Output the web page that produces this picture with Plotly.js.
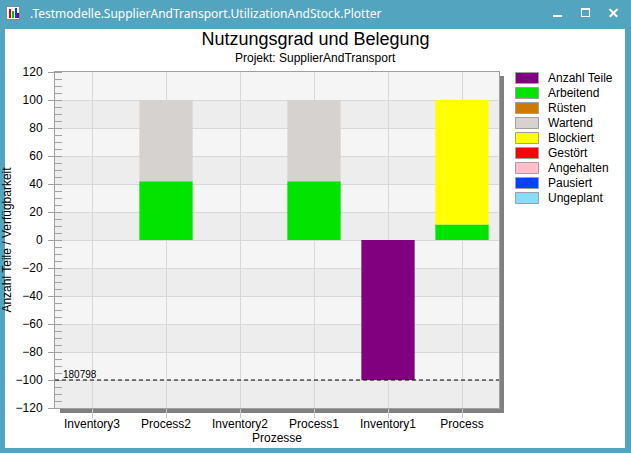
<!DOCTYPE html>
<html>
<head>
<meta charset="utf-8">
<script src="https://cdn.plot.ly/plotly-3.0.1.min.js"></script>
<style>
  html, body { margin: 0; padding: 0; }
  body { width: 631px; height: 453px; background: #53a4bf; position: relative; overflow: hidden; }
  #client { position: absolute; left: 5px; top: 29px; width: 620px; height: 419px; background: #fff; }
  #plot { position: absolute; left: 0; top: 0; width: 631px; height: 453px; }
  #caption { position: absolute; left: 30px; top: 5px; color: #fff; font: 12px "Noto Sans", "Open Sans", sans-serif; white-space: nowrap; }
  .icon { position: absolute; left: 6px; top: 6px; width: 14px; height: 14px; background: #fff; border: 1px solid #888; box-sizing: border-box; }
  .icon i { position: absolute; bottom: 1px; width: 2px; }
  .btn { position: absolute; background: #fff; }
</style>
</head>
<body>
<div id="client"></div>
<div class="icon">
  <i style="left:2px;height:9px;background:#e00000"></i>
  <i style="left:5px;height:7px;background:#00c000"></i>
  <i style="left:8px;height:10px;background:#0040ff"></i>
  <i style="left:10px;height:5px;background:#800080"></i>
</div>
<div id="caption">.Testmodelle.SupplierAndTransport.UtilizationAndStock.Plotter</div>
<div class="btn" style="left:553px;top:15px;width:9px;height:2px"></div>
<div style="position:absolute;left:581px;top:8px;width:7px;height:6px;border:1px solid #fff;border-top-width:2px"></div>
<div class="btn" style="left:608px;top:12px;width:11px;height:1.5px;transform:rotate(45deg)"></div>
<div class="btn" style="left:608px;top:12px;width:11px;height:1.5px;transform:rotate(-45deg)"></div>
<div id="plot"></div>
<script>
// Categories and values
const categories = ['Inventory3', 'Process2', 'Inventory2', 'Process1', 'Inventory1', 'Process'];

const seriesNames  = ['Anzahl Teile', 'Arbeitend', 'Rüsten', 'Wartend', 'Blockiert', 'Gestört', 'Angehalten', 'Pausiert', 'Ungeplant'];
const seriesColors = ['#800080', '#00e400', '#cc7a00', '#d5d2cf', '#ffff00', '#ff0000', '#ffc0cb', '#0044ff', '#87dcfa'];

const anzahlTeile = [0, 0, 0, 0, -100, 0];
const arbeitend   = [0, 42, 0, 42, 0, 11];
const ruesten     = [0, 0, 0, 0, 0, 0];
const wartend     = [0, 58, 0, 58, 0, 0];
const blockiert   = [0, 0, 0, 0, 0, 89];
const gestoert    = [0, 0, 0, 0, 0, 0];
const angehalten  = [0, 0, 0, 0, 0, 0];
const pausiert    = [0, 0, 0, 0, 0, 0];
const ungeplant   = [0, 0, 0, 0, 0, 0];

const seriesValues = [anzahlTeile, arbeitend, ruesten, wartend, blockiert, gestoert, angehalten, pausiert, ungeplant];

const refLineValue = -100;
const refLineLabel = '180798';

const yTicks = [-120, -100, -80, -60, -40, -20, 0, 20, 40, 60, 80, 100, 120];

// Geometry of the plot area (pixels in the window)
const M = { l: 55, r: 132, t: 72, b: 45 };
const PW = 631 - M.l - M.r;
const PH = 453 - M.t - M.b;
const px2x = px => (px - M.l) / PW;
const px2y = py => (453 - M.b - py) / PH;

const FONT = 'Liberation Sans, Arial, sans-serif';

const traces = seriesNames.map((name, i) => ({
	type: 'bar',
	name: name,
	x: categories,
	y: seriesValues[i],
	marker: { color: seriesColors[i], line: { width: 0 } },
	showlegend: false,
	hoverinfo: 'x+y+name'
}));

const shapes = [];

// Alternating horizontal bands
for (let k = 0; k < yTicks.length - 1; k += 2) {
	shapes.push({
		type: 'rect', layer: 'below',
		xref: 'paper', x0: 0, x1: 1,
		yref: 'y', y0: yTicks[k], y1: yTicks[k + 1],
		fillcolor: '#ededed', line: { width: 0 }
	});
}

// Drop shadow of the plot area
shapes.push({
	type: 'rect', layer: 'below', xref: 'paper', yref: 'paper',
	x0: 1, x1: 1 + 5 / PW, y0: -5 / PH, y1: 1 - 4 / PH,
	fillcolor: '#808080', line: { width: 0 }
});
shapes.push({
	type: 'rect', layer: 'below', xref: 'paper', yref: 'paper',
	x0: 5 / PW, x1: 1 + 5 / PW, y0: -5 / PH, y1: 0,
	fillcolor: '#808080', line: { width: 0 }
});

// Reference line
shapes.push({
	type: 'line', layer: 'above', xref: 'paper', x0: 0, x1: 1,
	yref: 'y', y0: refLineValue, y1: refLineValue,
	line: { color: '#000', width: 1, dash: '4px,3px' }
});

const annotations = [
	{
		text: 'Projekt: SupplierAndTransport', showarrow: false,
		xref: 'paper', yref: 'paper', x: px2x(315), y: px2y(58),
		xanchor: 'center', yanchor: 'middle',
		font: { family: FONT, size: 12, color: '#000' }
	},
	{
		text: refLineLabel, showarrow: false,
		xref: 'paper', yref: 'y', x: px2x(61), y: refLineValue,
		xanchor: 'left', yanchor: 'bottom', yshift: -2,
		font: { family: FONT, size: 10, color: '#000' }
	}
];

// Legend drawn as swatches and labels
seriesNames.forEach((name, i) => {
	const cy = 78 + i * 15;
	shapes.push({
		type: 'rect', xref: 'paper', yref: 'paper',
		x0: px2x(515.5), x1: px2x(538.5), y0: px2y(cy + 5.5), y1: px2y(cy - 5.5),
		fillcolor: seriesColors[i], line: { color: '#a0a0a0', width: 1 }
	});
	annotations.push({
		text: name, showarrow: false,
		xref: 'paper', yref: 'paper', x: px2x(546), y: px2y(cy),
		xanchor: 'left', yanchor: 'middle',
		font: { family: FONT, size: 12, color: '#000' }
	});
});

const layout = {
	width: 631, height: 453,
	margin: M,
	paper_bgcolor: 'rgba(0,0,0,0)',
	plot_bgcolor: '#f5f5f5',
	barmode: 'relative',
	bargap: 0.28,
	showlegend: false,
	font: { family: FONT, size: 12, color: '#000' },
	title: {
		text: 'Nutzungsgrad und Belegung',
		font: { family: FONT, size: 18, color: '#000' },
		x: 0.5, xref: 'container', xanchor: 'center',
		y: 1 - 39 / 453, yref: 'container', yanchor: 'middle'
	},
	xaxis: {
		type: 'category',
		categoryorder: 'array', categoryarray: categories,
		range: [-0.5, categories.length - 0.5],
		showgrid: true, gridcolor: '#d8d8d8',
		showline: true, mirror: true, linecolor: '#a0a0a0', linewidth: 1,
		ticks: 'outside', ticklen: 9, tickcolor: '#c8c8c8',
		ticklabelstandoff: -4,
		tickfont: { family: FONT, size: 12, color: '#000' },
		title: { text: 'Prozesse', font: { family: FONT, size: 12, color: '#000' }, standoff: 0 },
		automargin: false
	},
	yaxis: {
		range: [-120, 120],
		tickvals: yTicks,
		showgrid: true, gridcolor: '#d8d8d8',
		zeroline: false,
		showline: true, mirror: true, linecolor: '#a0a0a0', linewidth: 1,
		ticks: 'outside', ticklen: 6, tickcolor: '#a0a0a0',
		ticklabelstandoff: 3,
		minor: { dtick: 5, ticks: 'inside', ticklen: 7, tickcolor: '#a0a0a0', showgrid: false },
		tickfont: { family: FONT, size: 12, color: '#000' },
		title: { text: 'Anzahl Teile / Verfügbarkeit', font: { family: FONT, size: 12, color: '#000' }, standoff: 4 },
		automargin: false
	},
	shapes: shapes,
	annotations: annotations
};

Plotly.newPlot('plot', traces, layout, { displayModeBar: false, staticPlot: true });
</script>
</body>
</html>
